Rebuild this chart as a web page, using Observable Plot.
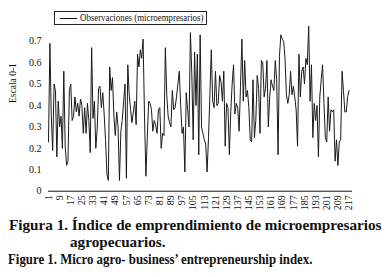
<!DOCTYPE html>
<html><head><meta charset="utf-8">
<script src="https://cdn.jsdelivr.net/npm/d3@7"></script>
<script src="https://cdn.jsdelivr.net/npm/@observablehq/plot@0.6"></script>
<style>
body{margin:0;background:#fff;font-family:"Liberation Serif","Times New Roman",serif;}
#wrap{position:relative;width:388px;height:277px;overflow:hidden;}
#chart svg{overflow:visible;}
#legend{position:absolute;left:54px;top:11px;width:151px;height:12px;border:1px solid #222;background:#fff;font-size:9.5px;line-height:12px;white-space:nowrap;color:#111;}
#legend .sw{position:absolute;left:5px;top:6px;width:17px;height:0;border-top:1px solid #111;}
#legend .tx{position:absolute;left:25px;top:0;display:inline-block;transform:scaleX(0.93);transform-origin:left center;}
#cap{position:absolute;left:0;top:216.4px;font-weight:bold;font-size:15.2px;line-height:17px;color:#111;white-space:nowrap;}
#cap .l1{padding-left:9px;}
#cap .l2{padding-left:70px;}
#cap .l3{padding-left:8px;}
#cap .l3 span{display:inline-block;transform:scaleX(0.845);transform-origin:left center;}
</style></head><body>
<div id="wrap"><div id="chart"></div>
<div id="legend"><span class="sw"></span><span class="tx">Observaciones (microempresarios)</span></div>
<div id="cap">
<div class="l1">Figura 1. Índice de emprendimiento de microempresarios</div>
<div class="l2">agropecuarios.</div>
<div class="l3"><span>Figure 1. Micro agro- business’ entrepreneurship index.</span></div>
</div></div>
<script>
const values = [
0.23,0.69,0.35,0.19,0.50,0.47,0.16,0.42,0.30,0.35,
0.20,0.56,0.21,0.12,0.14,0.47,0.50,0.33,0.35,0.44,
0.37,0.41,0.35,0.43,0.40,0.27,0.39,0.27,0.41,0.33,
0.18,0.67,0.34,0.42,0.20,0.29,0.48,0.49,0.39,0.46,
0.36,0.24,0.08,0.05,0.58,0.47,0.53,0.35,0.26,0.37,
0.30,0.05,0.28,0.33,0.42,0.50,0.06,0.59,0.45,0.38,
0.32,0.37,0.42,0.31,0.64,0.58,0.66,0.62,0.71,0.35,
0.07,0.25,0.42,0.41,0.38,0.28,0.33,0.31,0.27,0.38,
0.39,0.20,0.27,0.26,0.67,0.45,0.35,0.32,0.30,0.47,
0.38,0.39,0.44,0.50,0.56,0.40,0.27,0.30,0.09,0.46,
0.38,0.30,0.74,0.55,0.24,0.65,0.40,0.64,0.17,0.73,
0.30,0.27,0.24,0.22,0.09,0.25,0.45,0.66,0.42,0.39,
0.56,0.40,0.41,0.54,0.51,0.42,0.56,0.21,0.41,0.39,
0.17,0.37,0.50,0.59,0.36,0.41,0.39,0.28,0.49,0.71,
0.42,0.61,0.44,0.47,0.39,0.24,0.23,0.52,0.25,0.33,
0.54,0.48,0.27,0.61,0.60,0.44,0.48,0.61,0.30,0.44,
0.52,0.49,0.47,0.61,0.52,0.17,0.63,0.73,0.71,0.70,
0.62,0.45,0.41,0.45,0.56,0.45,0.49,0.44,0.38,0.21,
0.64,0.44,0.56,0.58,0.50,0.62,0.59,0.77,0.42,0.59,
0.25,0.41,0.33,0.40,0.16,0.44,0.52,0.59,0.41,0.25,
0.23,0.44,0.28,0.38,0.37,0.38,0.14,0.24,0.12,0.23,
0.24,0.56,0.47,0.37,0.37,0.44,0.47
];
const observations = d3.range(1, values.length + 1);
const xTicks = d3.range(1, 218, 8);
const yTicks = [0, 0.1, 0.2, 0.3, 0.4, 0.5, 0.6, 0.7];
const yTitle = "Escala 0-1";
const data = observations.map((o, i) => ({obs: o, value: values[i]}));

const chart = Plot.plot({
  width: 388,
  height: 214,
  marginLeft: 48,
  marginRight: 36,
  marginTop: 19.3,
  marginBottom: 23.3,
  style: {fontFamily: '"Liberation Serif","Times New Roman",serif', color: "#111", background: "#fff"},
  x: {domain: [1, 219.5], axis: null},
  y: {domain: [0, 0.8], axis: null},
  marks: [
    Plot.axisY({ticks: yTicks, tickSize: 0, tickPadding: 7, fontSize: 10, label: null,
      tickFormat: d => d === 0 ? "0" : d.toFixed(1)}),
    Plot.axisX({ticks: xTicks, tickSize: 0, tickPadding: 4, tickRotate: -90, fontSize: 10, label: null}),
    Plot.ruleY([0], {stroke: "#111", strokeWidth: 1}),
    Plot.line(data, {x: "obs", y: "value", stroke: "#1a1a1a", strokeWidth: 1}),
    Plot.text([yTitle], {frameAnchor: "left", dx: -36, dy: -2.5, rotate: -90, fontSize: 9.5, fill: "#111"})
  ]
});
document.getElementById("chart").appendChild(chart);
</script>
</body></html>
